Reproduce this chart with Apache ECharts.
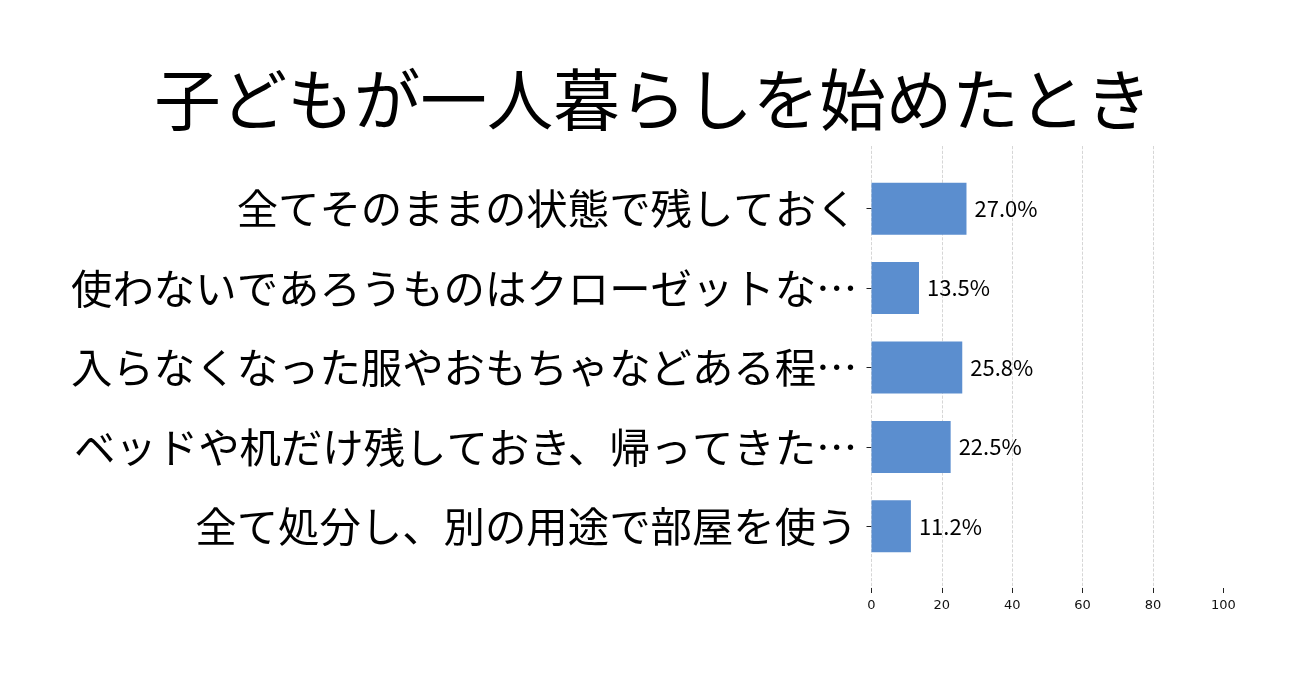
<!DOCTYPE html>
<html><head><meta charset="utf-8">
<script src="https://cdn.jsdelivr.net/npm/echarts@6/dist/echarts.min.js"></script>
<style>html,body{margin:0;padding:0;background:#fff}#c{width:1306px;height:683px}</style>
</head><body><div id="c"></div>
<script>
const titleText = '子どもが一人暮らしを始めたとき';
const categories = [
  '全てそのままの状態で残しておく',
  '使わないであろうものはクローゼットな…',
  '入らなくなった服やおもちゃなどある程…',
  'ベッドや机だけ残しておき、帰ってきた…',
  '全て処分し、別の用途で部屋を使う'
];
const values = [27.0, 13.5, 25.8, 22.5, 11.2];
const xMin = 0, xMax = 100, xStep = 20;

const chart = echarts.init(document.getElementById('c'));
const cjk = '"Noto Sans CJK JP", "Noto Sans", sans-serif';
chart.setOption({
  backgroundColor: '#fff',
  animation: false,
  title: {
    text: titleText, left: 'center', top: 61,
    textStyle: { fontFamily: cjk, fontSize: 66.5, fontWeight: 'normal', color: '#000' }
  },
  grid: [
    { left: 871.5, right: 82.7, top: 146, bottom: 95 },
    { left: 871.5, right: 82.7, top: 169, bottom: 117 }
  ],
  xAxis: [
    { gridIndex: 0, type: 'value', min: xMin, max: xMax, interval: xStep,
      axisLine: { show: false },
      axisTick: { show: true, length: 5, lineStyle: { color: '#222', width: 1 } },
      axisLabel: { fontFamily: '"DejaVu Sans", sans-serif', fontSize: 13, color: '#111', margin: 11 },
      splitLine: { show: true, showMaxLine: false, lineStyle: { color: '#ccc', type: 'dashed', width: 0.8 } } },
    { gridIndex: 1, type: 'value', min: xMin, max: xMax, show: false }
  ],
  yAxis: [
    { gridIndex: 0, type: 'value', show: false, min: 0, max: 1 },
    { gridIndex: 1, type: 'category', data: categories, inverse: true,
      axisLine: { show: false },
      axisTick: { show: true, alignWithLabel: true, length: 5, lineStyle: { color: '#222', width: 1 } },
      axisLabel: { interval: 0, fontFamily: cjk, fontSize: 41.4, color: '#000', margin: 14 },
      splitLine: { show: false } }
  ],
  series: [
    { type: 'scatter', xAxisIndex: 0, yAxisIndex: 0, data: [] },
    { type: 'bar', xAxisIndex: 1, yAxisIndex: 1, data: values, barWidth: 52,
      itemStyle: { color: '#5b8ecf' },
      label: { show: true, position: 'right', distance: 8,
        formatter: p => p.value.toFixed(1) + '%',
        fontFamily: cjk, fontSize: 22, color: '#000' } }
  ]
});
</script></body></html>
